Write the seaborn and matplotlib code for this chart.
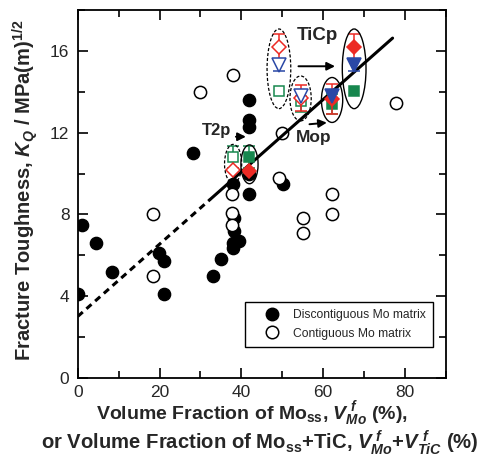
import numpy as np
import pandas as pd
import matplotlib
matplotlib.use("Agg")
import matplotlib.pyplot as plt
from matplotlib.patches import Ellipse
from matplotlib.lines import Line2D
from matplotlib.ticker import MultipleLocator
import seaborn as sns

# --- data -------------------------------------------------------------
# Discontiguous Mo matrix (filled circles)
disc_x = [0, 1.1, 4.5, 8.3, 19.8, 21.0, 21.2, 28.2, 33.0, 35.0, 38.0, 38.1,
          38.3, 39.4, 38.0, 38.0, 42.0, 42.0, 42.0, 42.0, 42.0, 50.2]
disc_y = [4.1, 7.5, 6.6, 5.2, 6.1, 5.7, 4.1, 11.0, 5.0, 5.8, 9.5, 7.8,
          7.2, 6.7, 6.6, 6.35, 9.0, 13.6, 12.6, 12.3, 10.0, 9.5]

# Contiguous Mo matrix (open circles)
cont_x = [30.0, 38.0, 37.8, 37.8, 37.8, 18.4, 18.4, 49.2, 55.1, 55.1,
          62.1, 62.1, 50.0, 77.8]
cont_y = [14.0, 14.8, 9.0, 8.05, 7.5, 8.0, 5.0, 9.8, 7.8, 7.1,
          9.0, 8.0, 12.0, 13.45]

# Composite groups: T2p, Mop, TiCp
groups = ["T2p", "Mop", "TiCp"]
open_x = [38.0, 54.5, 49.2]     # before adding the second phase
fill_x = [42.0, 62.2, 67.6]     # after adding the second phase

red_open = [10.15, 13.7, 16.2]
red_open_err = [0.0, 0.65, 0.65]
red_fill = [10.1, 13.65, 16.2]
red_fill_err = [0.0, 0.75, 0.65]

blue_open = [np.nan, 13.8, 15.3]
blue_open_err = [0.0, 0.0, 0.3]
blue_fill = [np.nan, 13.8, 15.3]
blue_fill_err = [0.0, 0.0, 0.3]

green_open = [10.8, 13.55, 14.05]
green_open_err = [0.55, 0.55, 0.0]
green_fill = [10.8, 13.4, 14.05]
green_fill_err = [0.55, 0.5, 0.0]

# Linear trend of K_Q versus volume fraction
trend_intercept = 3.0
trend_slope = 0.177
trend_x = [0.0, 32.4, 77.0]

# --- style -------------------------------------------------------------
sns.set_theme(style="ticks")
plt.rcParams["font.family"] = ["Liberation Sans", "DejaVu Sans"]
plt.rcParams["mathtext.fontset"] = "custom"
plt.rcParams["mathtext.rm"] = "Liberation Sans:bold"
plt.rcParams["mathtext.bf"] = "Liberation Sans:bold"
plt.rcParams["mathtext.it"] = "Liberation Sans:bold:italic"

RED = "#ec2a24"
BLUE = "#2a48a6"
GREEN = "#17874e"

fig = plt.figure(figsize=(4.92, 4.59), dpi=100)
ax = fig.add_axes([0.158, 0.177, 0.748, 0.801])

df_disc = pd.DataFrame({"x": disc_x, "y": disc_y})
df_cont = pd.DataFrame({"x": cont_x, "y": cont_y})

sns.scatterplot(data=df_disc, x="x", y="y", ax=ax, s=78, color="black",
                edgecolor="black", linewidth=1.0, zorder=3, legend=False)
sns.scatterplot(data=df_cont, x="x", y="y", ax=ax, s=78, color="white",
                edgecolor="black", linewidth=1.1, zorder=3, legend=False)

# trend line: dashed extrapolation, solid over the composite range
tx = np.array(trend_x)
ty = trend_intercept + trend_slope * tx
ax.plot(tx[:2], ty[:2], color="black", lw=2.2, ls=(0, (2.2, 1.6)), zorder=4)
ax.plot(tx[1:], ty[1:], color="black", lw=2.2, zorder=4)


def marker_series(x, y, err, color, marker, ms, filled, z):
    for xi, yi, ei in zip(x, y, err):
        if np.isnan(yi):
            continue
        ax.errorbar(xi, yi, yerr=ei if ei > 0 else None, fmt=marker, ms=ms,
                    color=color, mec=color, mfc=color if filled else "white",
                    mew=1.1, ecolor=color, elinewidth=1.1, capsize=4.5,
                    capthick=1.1, zorder=z)


marker_series(open_x, green_open, green_open_err, GREEN, "s", 7, False, 5)
marker_series(fill_x, green_fill, green_fill_err, GREEN, "s", 7, True, 5)
marker_series(open_x, red_open, red_open_err, RED, "D", 7.5, False, 6)
marker_series(fill_x, red_fill, red_fill_err, RED, "D", 7.5, True, 6)
marker_series(open_x, blue_open, blue_open_err, BLUE, "v", 10, False, 7)
marker_series(fill_x, blue_fill, blue_fill_err, BLUE, "v", 10, True, 7)

# ellipses around each group
ell_w = [4.2, 5.2, 5.8]
ell_h = [1.9, 2.2, 3.9]
for i in range(len(groups)):
    vals = [v for v in (red_open[i], blue_open[i], green_open[i]) if not np.isnan(v)]
    cy = (max(vals) + min(vals)) / 2
    ax.add_patch(Ellipse((open_x[i], cy), ell_w[i], ell_h[i], fill=False,
                         ec="black", lw=0.9, ls=(0, (2.5, 1.5)), zorder=8))
    vals = [v for v in (red_fill[i], blue_fill[i], green_fill[i]) if not np.isnan(v)]
    cy = (max(vals) + min(vals)) / 2
    ax.add_patch(Ellipse((fill_x[i], cy), ell_w[i], ell_h[i], fill=False,
                         ec="black", lw=1.0, zorder=8))

# group labels with arrows
arrow = dict(arrowstyle="-|>", color="black", lw=1.4, mutation_scale=12)
ax.annotate("", xy=(41.8, 11.8), xytext=(38.0, 11.8), arrowprops=arrow)
ax.text(34.0, 12.1, "T2p", fontsize=12, fontweight="bold", ha="center", va="center")
ax.annotate("", xy=(63.6, 15.25), xytext=(53.3, 15.25), arrowprops=arrow)
ax.text(58.6, 16.75, "TiCp", fontsize=13.5, fontweight="bold", ha="center", va="center")
ax.annotate("", xy=(61.6, 12.5), xytext=(56.0, 12.4), arrowprops=arrow)
ax.text(57.7, 11.75, "Mop", fontsize=12.5, fontweight="bold", ha="center", va="center")

# axes
ax.set_xlim(0, 90)
ax.set_ylim(0, 18)
ax.xaxis.set_major_locator(MultipleLocator(20))
ax.xaxis.set_minor_locator(MultipleLocator(10))
ax.yaxis.set_major_locator(MultipleLocator(4))
ax.yaxis.set_minor_locator(MultipleLocator(2))
ax.tick_params(which="both", direction="in", top=True, right=True,
               width=1.2, color="black", labelsize=12.5)
ax.tick_params(axis="x", pad=5)
ax.tick_params(axis="y", pad=6)
ax.tick_params(which="major", length=7)
ax.tick_params(which="minor", length=5)
for sp in ax.spines.values():
    sp.set_linewidth(1.3)
    sp.set_color("black")
ax.set_xlabel("")
ax.set_ylabel("")

fig.text(0.052, 0.585,
         r"Fracture Toughness, $K_Q$ / MPa(m)$^{\mathrm{1/2}}$",
         rotation=90, fontsize=14.5, fontweight="bold", ha="center", va="center")
fig.text(0.513, 0.099,
         r"Volume Fraction of Mo$_{\mathrm{ss}}$, $V^{\;f}_{Mo}$ (%),",
         fontsize=14, fontweight="bold", ha="center", va="center")
fig.text(0.528, 0.035,
         r"or Volume Fraction of Mo$_{\mathrm{ss}}$+TiC, $V^{\;f}_{Mo}$+$V^{\;f}_{TiC}$ (%)",
         fontsize=14.6, fontweight="bold", ha="center", va="center")

handles = [
    Line2D([], [], ls="none", marker="o", ms=9, mfc="black", mec="black"),
    Line2D([], [], ls="none", marker="o", ms=9, mfc="white", mec="black", mew=1.1),
]
leg = ax.legend(handles, ["Discontiguous Mo matrix", "Contiguous Mo matrix"],
                loc="lower right", bbox_to_anchor=(0.966, 0.084), borderaxespad=0,
                fontsize=8.7, frameon=True, fancybox=False, edgecolor="black",
                framealpha=1, handlelength=3.2, handletextpad=0.15,
                borderpad=0.6, labelspacing=0.55)
leg.get_frame().set_linewidth(1.0)

fig.savefig("out.png", dpi=100)
